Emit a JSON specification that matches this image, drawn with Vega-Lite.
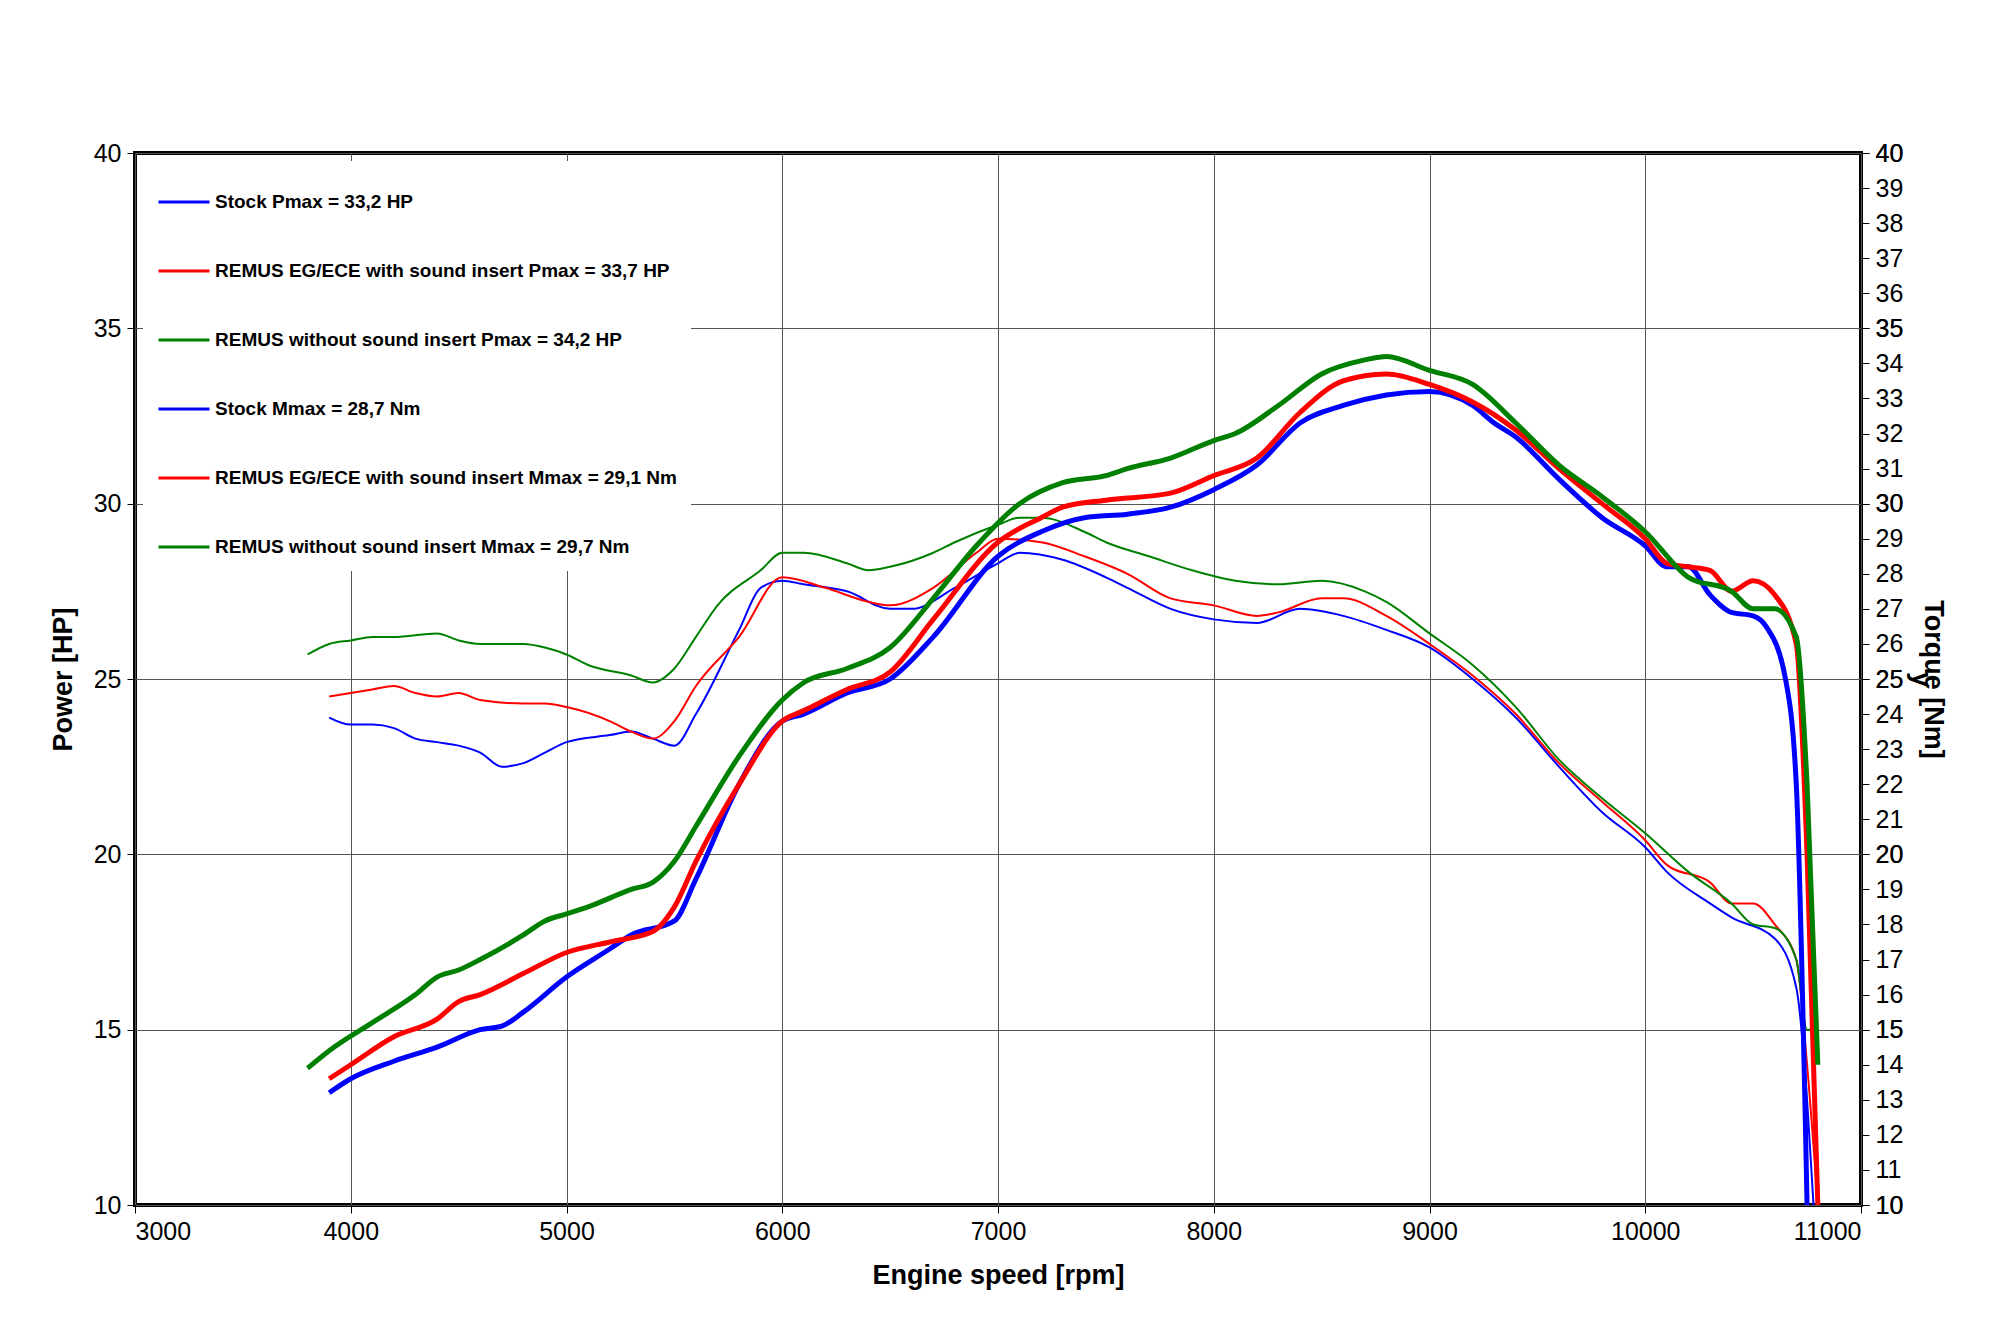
{
  "$schema": "https://vega.github.io/schema/vega-lite/v6.json",
  "width": 1726,
  "height": 1052,
  "autosize": "none",
  "padding": {"left": 135, "top": 153, "right": 139, "bottom": 137},
  "background": "white",
  "config": {
    "font": "Liberation Sans",
    "view": {"stroke": "black", "strokeWidth": 4},
    "axis": {"labelFontSize": 25, "labelColor": "black", "titleFontSize": 27, "titleFontWeight": "bold", "titleColor": "black", "gridColor": "#555", "gridWidth": 1, "tickColor": "black", "domain": false, "tickSize": 8, "labelPadding": 6}
  },
  "data": {"values": [
    {"s":"A","x":3900,"y":13.2},{"s":"A","x":4000,"y":13.6},{"s":"A","x":4200,"y":14.1},{"s":"A","x":4400,"y":14.5},{"s":"A","x":4600,"y":15.0},{"s":"A","x":4700,"y":15.1},{"s":"A","x":4800,"y":15.5},{"s":"A","x":5000,"y":16.5},{"s":"A","x":5200,"y":17.3},{"s":"A","x":5300,"y":17.7},{"s":"A","x":5500,"y":18.1},{"s":"A","x":5600,"y":19.3},{"s":"A","x":5800,"y":22.0},{"s":"A","x":6000,"y":23.8},{"s":"A","x":6100,"y":24.0},{"s":"A","x":6300,"y":24.6},{"s":"A","x":6500,"y":25.0},{"s":"A","x":6700,"y":26.2},{"s":"A","x":7000,"y":28.5},{"s":"A","x":7200,"y":29.2},{"s":"A","x":7400,"y":29.6},{"s":"A","x":7600,"y":29.7},{"s":"A","x":7800,"y":29.9},{"s":"A","x":8000,"y":30.4},{"s":"A","x":8200,"y":31.1},{"s":"A","x":8400,"y":32.3},{"s":"A","x":8600,"y":32.8},{"s":"A","x":8800,"y":33.1},{"s":"A","x":9000,"y":33.2},{"s":"A","x":9200,"y":32.8},{"s":"A","x":9300,"y":32.3},{"s":"A","x":9400,"y":31.9},{"s":"A","x":9600,"y":30.7},{"s":"A","x":9800,"y":29.6},{"s":"A","x":10000,"y":28.8},{"s":"A","x":10100,"y":28.2},{"s":"A","x":10200,"y":28.2},{"s":"A","x":10300,"y":27.4},{"s":"A","x":10400,"y":26.9},{"s":"A","x":10500,"y":26.8},{"s":"A","x":10560,"y":26.5},{"s":"A","x":10650,"y":25.0},{"s":"A","x":10700,"y":22.0},{"s":"A","x":10750,"y":10.0},
    {"s":"B","x":3900,"y":13.6},{"s":"B","x":4000,"y":14.0},{"s":"B","x":4200,"y":14.8},{"s":"B","x":4400,"y":15.3},{"s":"B","x":4500,"y":15.8},{"s":"B","x":4600,"y":16.0},{"s":"B","x":4800,"y":16.6},{"s":"B","x":5000,"y":17.2},{"s":"B","x":5200,"y":17.5},{"s":"B","x":5400,"y":17.8},{"s":"B","x":5500,"y":18.5},{"s":"B","x":5600,"y":19.8},{"s":"B","x":5800,"y":22.0},{"s":"B","x":6000,"y":23.8},{"s":"B","x":6100,"y":24.1},{"s":"B","x":6300,"y":24.7},{"s":"B","x":6500,"y":25.2},{"s":"B","x":6700,"y":26.7},{"s":"B","x":7000,"y":28.9},{"s":"B","x":7200,"y":29.6},{"s":"B","x":7300,"y":29.9},{"s":"B","x":7500,"y":30.1},{"s":"B","x":7800,"y":30.3},{"s":"B","x":8000,"y":30.8},{"s":"B","x":8200,"y":31.3},{"s":"B","x":8400,"y":32.6},{"s":"B","x":8600,"y":33.5},{"s":"B","x":8800,"y":33.7},{"s":"B","x":9000,"y":33.4},{"s":"B","x":9200,"y":32.9},{"s":"B","x":9400,"y":32.1},{"s":"B","x":9600,"y":31.0},{"s":"B","x":9800,"y":30.0},{"s":"B","x":10000,"y":29.0},{"s":"B","x":10100,"y":28.3},{"s":"B","x":10200,"y":28.2},{"s":"B","x":10300,"y":28.1},{"s":"B","x":10400,"y":27.5},{"s":"B","x":10500,"y":27.8},{"s":"B","x":10600,"y":27.4},{"s":"B","x":10700,"y":26.0},{"s":"B","x":10750,"y":20.0},{"s":"B","x":10800,"y":10.0},
    {"s":"C","x":3800,"y":13.9},{"s":"C","x":3900,"y":14.4},{"s":"C","x":4100,"y":15.2},{"s":"C","x":4300,"y":16.0},{"s":"C","x":4400,"y":16.5},{"s":"C","x":4500,"y":16.7},{"s":"C","x":4600,"y":17.0},{"s":"C","x":4800,"y":17.7},{"s":"C","x":4900,"y":18.1},{"s":"C","x":5000,"y":18.3},{"s":"C","x":5100,"y":18.5},{"s":"C","x":5300,"y":19.0},{"s":"C","x":5400,"y":19.2},{"s":"C","x":5500,"y":19.8},{"s":"C","x":5600,"y":20.8},{"s":"C","x":5800,"y":22.8},{"s":"C","x":6000,"y":24.4},{"s":"C","x":6100,"y":24.9},{"s":"C","x":6300,"y":25.3},{"s":"C","x":6500,"y":25.9},{"s":"C","x":6700,"y":27.3},{"s":"C","x":6900,"y":28.8},{"s":"C","x":7100,"y":30.0},{"s":"C","x":7300,"y":30.6},{"s":"C","x":7500,"y":30.8},{"s":"C","x":7600,"y":31.0},{"s":"C","x":7800,"y":31.3},{"s":"C","x":8000,"y":31.8},{"s":"C","x":8100,"y":32.0},{"s":"C","x":8300,"y":32.8},{"s":"C","x":8500,"y":33.7},{"s":"C","x":8700,"y":34.1},{"s":"C","x":8800,"y":34.2},{"s":"C","x":9000,"y":33.8},{"s":"C","x":9200,"y":33.4},{"s":"C","x":9400,"y":32.3},{"s":"C","x":9600,"y":31.1},{"s":"C","x":9800,"y":30.2},{"s":"C","x":10000,"y":29.2},{"s":"C","x":10200,"y":27.9},{"s":"C","x":10400,"y":27.5},{"s":"C","x":10500,"y":27.0},{"s":"C","x":10600,"y":27.0},{"s":"C","x":10700,"y":26.2},{"s":"C","x":10750,"y":22.0},{"s":"C","x":10800,"y":14.0},
    {"s":"D","x":3900,"y":23.9},{"s":"D","x":4000,"y":23.7},{"s":"D","x":4100,"y":23.7},{"s":"D","x":4200,"y":23.6},{"s":"D","x":4300,"y":23.3},{"s":"D","x":4400,"y":23.2},{"s":"D","x":4500,"y":23.1},{"s":"D","x":4600,"y":22.9},{"s":"D","x":4700,"y":22.5},{"s":"D","x":4800,"y":22.6},{"s":"D","x":4900,"y":22.9},{"s":"D","x":5000,"y":23.2},{"s":"D","x":5200,"y":23.4},{"s":"D","x":5300,"y":23.5},{"s":"D","x":5400,"y":23.3},{"s":"D","x":5500,"y":23.1},{"s":"D","x":5600,"y":24.0},{"s":"D","x":5800,"y":26.4},{"s":"D","x":5900,"y":27.6},{"s":"D","x":6000,"y":27.8},{"s":"D","x":6100,"y":27.7},{"s":"D","x":6300,"y":27.5},{"s":"D","x":6500,"y":27.0},{"s":"D","x":6600,"y":27.0},{"s":"D","x":6800,"y":27.6},{"s":"D","x":7000,"y":28.3},{"s":"D","x":7100,"y":28.6},{"s":"D","x":7300,"y":28.4},{"s":"D","x":7500,"y":27.9},{"s":"D","x":7600,"y":27.6},{"s":"D","x":7800,"y":27.0},{"s":"D","x":8000,"y":26.7},{"s":"D","x":8200,"y":26.6},{"s":"D","x":8400,"y":27.0},{"s":"D","x":8600,"y":26.8},{"s":"D","x":8800,"y":26.4},{"s":"D","x":9000,"y":25.9},{"s":"D","x":9200,"y":25.0},{"s":"D","x":9400,"y":23.9},{"s":"D","x":9600,"y":22.5},{"s":"D","x":9800,"y":21.2},{"s":"D","x":10000,"y":20.2},{"s":"D","x":10100,"y":19.5},{"s":"D","x":10300,"y":18.6},{"s":"D","x":10400,"y":18.2},{"s":"D","x":10600,"y":17.6},{"s":"D","x":10700,"y":16.2},{"s":"D","x":10750,"y":13.0},{"s":"D","x":10780,"y":10.0},
    {"s":"E","x":3900,"y":24.5},{"s":"E","x":4000,"y":24.6},{"s":"E","x":4100,"y":24.7},{"s":"E","x":4200,"y":24.8},{"s":"E","x":4300,"y":24.6},{"s":"E","x":4400,"y":24.5},{"s":"E","x":4500,"y":24.6},{"s":"E","x":4600,"y":24.4},{"s":"E","x":4800,"y":24.3},{"s":"E","x":4900,"y":24.3},{"s":"E","x":5000,"y":24.2},{"s":"E","x":5200,"y":23.8},{"s":"E","x":5300,"y":23.5},{"s":"E","x":5400,"y":23.3},{"s":"E","x":5500,"y":23.8},{"s":"E","x":5600,"y":24.8},{"s":"E","x":5800,"y":26.2},{"s":"E","x":6000,"y":27.9},{"s":"E","x":6200,"y":27.6},{"s":"E","x":6400,"y":27.2},{"s":"E","x":6500,"y":27.1},{"s":"E","x":6700,"y":27.6},{"s":"E","x":6900,"y":28.6},{"s":"E","x":7000,"y":29.0},{"s":"E","x":7200,"y":28.9},{"s":"E","x":7400,"y":28.5},{"s":"E","x":7600,"y":28.0},{"s":"E","x":7800,"y":27.3},{"s":"E","x":8000,"y":27.1},{"s":"E","x":8200,"y":26.8},{"s":"E","x":8300,"y":26.9},{"s":"E","x":8500,"y":27.3},{"s":"E","x":8600,"y":27.3},{"s":"E","x":8800,"y":26.8},{"s":"E","x":9000,"y":26.0},{"s":"E","x":9200,"y":25.1},{"s":"E","x":9400,"y":24.0},{"s":"E","x":9600,"y":22.6},{"s":"E","x":9800,"y":21.5},{"s":"E","x":10000,"y":20.4},{"s":"E","x":10100,"y":19.7},{"s":"E","x":10300,"y":19.2},{"s":"E","x":10400,"y":18.6},{"s":"E","x":10500,"y":18.6},{"s":"E","x":10600,"y":18.0},{"s":"E","x":10700,"y":17.0},{"s":"E","x":10750,"y":14.0},{"s":"E","x":10800,"y":10.0},
    {"s":"F","x":3800,"y":25.7},{"s":"F","x":3900,"y":26.0},{"s":"F","x":4000,"y":26.1},{"s":"F","x":4100,"y":26.2},{"s":"F","x":4200,"y":26.2},{"s":"F","x":4400,"y":26.3},{"s":"F","x":4500,"y":26.1},{"s":"F","x":4600,"y":26.0},{"s":"F","x":4800,"y":26.0},{"s":"F","x":4900,"y":25.9},{"s":"F","x":5000,"y":25.7},{"s":"F","x":5100,"y":25.4},{"s":"F","x":5300,"y":25.1},{"s":"F","x":5400,"y":24.9},{"s":"F","x":5500,"y":25.3},{"s":"F","x":5600,"y":26.2},{"s":"F","x":5700,"y":27.1},{"s":"F","x":5900,"y":28.1},{"s":"F","x":6000,"y":28.6},{"s":"F","x":6100,"y":28.6},{"s":"F","x":6300,"y":28.3},{"s":"F","x":6400,"y":28.1},{"s":"F","x":6500,"y":28.2},{"s":"F","x":6700,"y":28.6},{"s":"F","x":6800,"y":28.9},{"s":"F","x":7000,"y":29.4},{"s":"F","x":7100,"y":29.6},{"s":"F","x":7200,"y":29.6},{"s":"F","x":7400,"y":29.2},{"s":"F","x":7500,"y":28.9},{"s":"F","x":7700,"y":28.5},{"s":"F","x":7900,"y":28.1},{"s":"F","x":8100,"y":27.8},{"s":"F","x":8300,"y":27.7},{"s":"F","x":8500,"y":27.8},{"s":"F","x":8700,"y":27.5},{"s":"F","x":8800,"y":27.2},{"s":"F","x":9000,"y":26.3},{"s":"F","x":9200,"y":25.4},{"s":"F","x":9400,"y":24.2},{"s":"F","x":9600,"y":22.7},{"s":"F","x":9800,"y":21.6},{"s":"F","x":10000,"y":20.6},{"s":"F","x":10200,"y":19.5},{"s":"F","x":10400,"y":18.6},{"s":"F","x":10500,"y":18.0},{"s":"F","x":10600,"y":17.9},{"s":"F","x":10700,"y":17.0},{"s":"F","x":10750,"y":15.0},{"s":"F","x":10800,"y":15.0}
  ]},
  "encoding": {
    "x": {"field": "x", "type": "quantitative", "scale": {"domain": [3000, 11000], "nice": false, "zero": false, "padding": 0}, "axis": {"values": [3000,4000,5000,6000,7000,8000,9000,10000,11000], "format": "d", "title": "Engine speed [rpm]", "titlePadding": 18}}
  },
  "layer": [
    {
      "transform": [{"filter": "datum.s == 'D' || datum.s == 'E' || datum.s == 'F'"}],
      "mark": {"type": "line", "interpolate": "monotone", "strokeWidth": 2},
      "encoding": {
        "y": {"field": "y", "type": "quantitative", "scale": {"domain": [10, 40], "nice": false, "zero": false, "padding": 0}, "axis": {"values": [10,15,20,25,30,35,40], "title": "Power [HP]", "titlePadding": 16}},
        "color": {"field": "s", "type": "nominal", "scale": {"domain": ["A","B","C","D","E","F"], "range": ["#0000ff","#ff0000","#008000","#0000ff","#ff0000","#008000"]},
          "legend": {"title": null, "orient": "top-left", "offset": 8, "fillColor": "white", "padding": 14, "rowPadding": 32, "labelFontSize": 19, "labelFontWeight": "bold", "labelColor": "black", "labelLimit": 0, "symbolType": "stroke", "symbolSize": 2600, "symbolStrokeWidth": 3, "labelOffset": 4,
            "labelExpr": "{'A':'Stock Pmax = 33,2 HP','B':'REMUS EG/ECE with sound insert Pmax = 33,7 HP','C':'REMUS without sound insert Pmax = 34,2 HP','D':'Stock Mmax = 28,7 Nm','E':'REMUS EG/ECE with sound insert Mmax = 29,1 Nm','F':'REMUS without sound insert Mmax = 29,7 Nm'}[datum.value]"}},
        "order": {"field": "x"}
      }
    },
    {
      "transform": [{"filter": "datum.s == 'A' || datum.s == 'B' || datum.s == 'C'"}],
      "mark": {"type": "line", "interpolate": "monotone", "strokeWidth": 5},
      "encoding": {
        "y": {"field": "y", "type": "quantitative", "scale": {"domain": [10, 40], "nice": false, "zero": false, "padding": 0}},
        "color": {"field": "s", "type": "nominal"},
        "order": {"field": "x"}
      }
    },
    {
      "mark": {"type": "point", "opacity": 0},
      "encoding": {
        "y": {"field": "y", "type": "quantitative", "scale": {"domain": [10, 40], "nice": false, "zero": false, "padding": 0}, "axis": {"orient": "right", "grid": false, "values": [10,15,20,25,30,35,40], "title": "Torque [Nm]", "titlePadding": 16}}
      }
    }
  ],
  "resolve": {"scale": {"y": "independent", "color": "shared"}}
}
